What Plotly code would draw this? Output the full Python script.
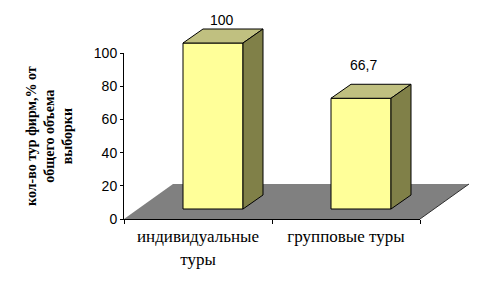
import numpy as np
import plotly.graph_objects as go

# ---- data ----
categories = ["индивидуальные<br>туры", "групповые туры"]
values = [100, 66.7]
value_labels = ["100", "66,7"]
y_ticks = [0, 20, 40, 60, 80, 100]
y_title = "кол-во тур фирм,% от<br>общего объема<br>выборки"

# ---- geometry / style (pixels of the 503x293 page) ----
W, H = 503, 293
AX_L, AX_R, AX_B, AX_T = 124, 420, 219, 53      # visible axes box
X_RANGE = (-0.5, 1.5)
Y_RANGE = (0, 100)
px_per_x = (AX_R - AX_L) / (X_RANGE[1] - X_RANGE[0])
px_per_y = (AX_B - AX_T) / (Y_RANGE[1] - Y_RANGE[0])

bar_offset = -15 / px_per_x        # start of bar relative to category centre
bar_width = 60 / px_per_x
bar_base = 10 / px_per_y           # bars stand inside the floor
depth_dx = 20 / px_per_x
depth_dy = 14 / px_per_y
floor_dx = 49 / px_per_x
floor_dy = 35 / px_per_y
label_dx = 0.14
label_xshift = [3, -3]
label_yshift = [9, 19]

FRONT = "#FFFF99"
TOP = "#C0C080"
SIDE = "#808048"
FLOOR = "#808080"
SANS = "Liberation Sans, Arial, sans-serif"
SERIF = "Liberation Serif, Times New Roman, serif"

# canvas axis ranges matching the visible axes scale over the whole page
cx0 = X_RANGE[0] - AX_L / px_per_x
cx1 = X_RANGE[0] + (W - AX_L) / px_per_x
cy0 = Y_RANGE[0] - (H - AX_B) / px_per_y
cy1 = Y_RANGE[0] + AX_B / px_per_y

xs = np.arange(len(categories))
vals = np.array(values, dtype=float)

fig = go.Figure()

# floor (drawn below all traces)
fx = [X_RANGE[0], X_RANGE[1], X_RANGE[1] + floor_dx, X_RANGE[0] + floor_dx]
fy = [0, 0, floor_dy, floor_dy]
floor_path = "M " + " L ".join(f"{a},{b}" for a, b in zip(fx, fy)) + " Z"
fig.add_shape(type="path", path=floor_path, xref="x", yref="y", layer="below",
              fillcolor=FLOOR, line=dict(width=0))
fig.add_shape(type="line", x0=fx[1], y0=fy[1], x1=fx[2], y1=fy[2], xref="x", yref="y",
              layer="below", line=dict(color="#303030", width=1))

# bar front faces
fig.add_trace(go.Bar(x=xs, y=vals, base=bar_base, width=bar_width, offset=bar_offset,
                     marker=dict(color=FRONT, line=dict(color="black", width=1)),
                     hoverinfo="skip", showlegend=False))

# top and side faces
for i, v in zip(xs, vals):
    xl = i + bar_offset
    xr = xl + bar_width
    b = bar_base
    t = bar_base + v
    fig.add_trace(go.Scatter(
        x=[xl, xr, xr + depth_dx, xl + depth_dx, xl],
        y=[t, t, t + depth_dy, t + depth_dy, t],
        fill="toself", fillcolor=TOP, mode="lines",
        line=dict(color="black", width=1), hoverinfo="skip", showlegend=False))
    fig.add_trace(go.Scatter(
        x=[xr, xr + depth_dx, xr + depth_dx, xr, xr],
        y=[b, b + depth_dy, t + depth_dy, t, b],
        fill="toself", fillcolor=SIDE, mode="lines",
        line=dict(color="black", width=1), hoverinfo="skip", showlegend=False))

# value labels
for i, v, lab, xsft, ysft in zip(xs, vals, value_labels, label_xshift, label_yshift):
    fig.add_annotation(x=i + label_dx, y=bar_base + v + depth_dy, xref="x", yref="y",
                       text=lab, showarrow=False, xshift=xsft, yshift=ysft,
                       xanchor="center", yanchor="middle",
                       font=dict(family=SANS, size=14, color="black"))

# y-axis title
fig.add_annotation(x=49 / W, y=1 - 136 / H, xref="paper", yref="paper", text=y_title,
                   textangle=-90, showarrow=False, align="center",
                   xanchor="center", yanchor="middle",
                   font=dict(family=SERIF, size=14, color="black", weight="bold"))

fig.update_layout(
    width=W, height=H,
    margin=dict(l=0, r=0, t=0, b=0, autoexpand=False),
    paper_bgcolor="white", plot_bgcolor="rgba(0,0,0,0)",
    showlegend=False,
    xaxis=dict(domain=[0, 1], range=[cx0, cx1], visible=False, fixedrange=True),
    yaxis=dict(domain=[0, 1], range=[cy0, cy1], visible=False, fixedrange=True),
    xaxis2=dict(domain=[AX_L / W, AX_R / W], range=list(X_RANGE), anchor="y2",
                showline=True, linecolor="black", linewidth=1, showgrid=False, zeroline=False,
                tickvals=list(xs), ticktext=categories, ticks="outside", ticklen=2,
                tickcolor="rgba(0,0,0,0)", automargin=False,
                minor=dict(tickvals=[-0.5, 0.5, 1.5], ticks="outside", ticklen=4,
                           tickcolor="black", tickwidth=1, showgrid=False),
                tickfont=dict(family=SERIF, size=17, color="black"), fixedrange=True),
    yaxis2=dict(domain=[(H - AX_B) / H, (H - AX_T) / H], range=list(Y_RANGE), anchor="x2",
                showline=True, linecolor="black", linewidth=1, showgrid=False, zeroline=False,
                tickvals=y_ticks, ticks="outside", ticklen=3, tickcolor="black",
                automargin=False,
                tickfont=dict(family=SANS, size=14, color="black"), fixedrange=True),
)
# dummy trace to activate the visible axes subplot
fig.add_trace(go.Scatter(x=[None], y=[None], xaxis="x2", yaxis="y2", showlegend=False,
                         hoverinfo="skip"))

fig.write_html("out.html")
